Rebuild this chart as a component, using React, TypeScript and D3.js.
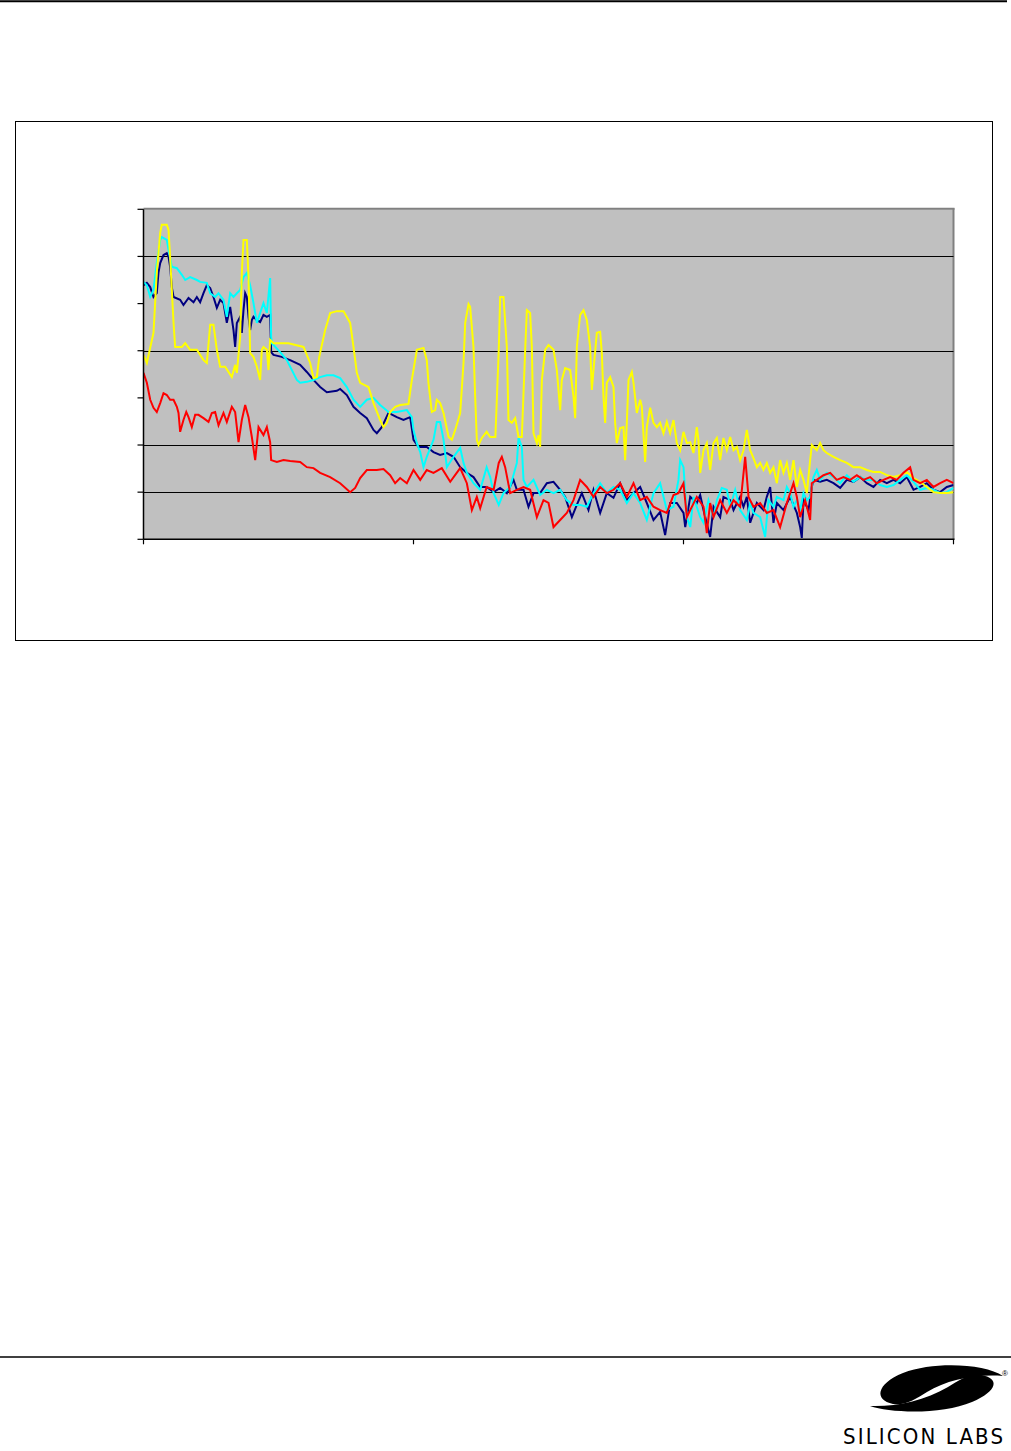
import React from "react";
import * as d3 from "d3";

type Pt = [number, number];

// Frequency (Hz) on a log axis, level (dB) on a linear axis
const xTicks = [10, 100, 1000, 10000];
const yTicks = [-140, -130, -120, -110, -100, -90, -80, -70];
const yGrid = [-130, -120, -100, -80];

const yellowSeries: Pt[] = [[10,-100.9],[10.29,-102.6],[10.89,-96.2],[11.2,-83.5],[11.53,-75.0],[11.69,-73.3],[12.2,-73.3],[12.38,-74.4],[12.55,-80.1],[12.73,-87.1],[12.92,-94.1],[13.1,-99.2],[13.87,-99.2],[14.27,-98.4],[14.89,-99.8],[15.76,-99.8],[16.68,-102.0],[17.16,-102.6],[17.66,-94.5],[18.16,-94.5],[18.69,-99.8],[19.23,-103.4],[20.06,-103.4],[21.24,-105.6],[21.85,-103.0],[22.17,-104.7],[22.8,-97.1],[23.13,-83.5],[23.46,-76.5],[24.14,-76.5],[24.49,-84.4],[24.83,-100.5],[25.55,-101.3],[26.29,-103.4],[27.04,-106.2],[27.43,-99.8],[27.82,-99.2],[28.63,-99.8],[29.04,-104.1],[29.45,-97.7],[30.3,-98.4],[34.43,-98.4],[39.14,-99.2],[41.42,-102.6],[42.62,-105.8],[43.85,-105.6],[44.76,-101.3],[47.08,-95.6],[49.13,-92.0],[52.0,-91.6],[55.04,-91.6],[58.26,-94.1],[59.94,-99.2],[61.67,-104.7],[63.45,-106.8],[68.1,-107.7],[71.09,-111.1],[75.25,-114.7],[77.42,-116.2],[79.65,-115.3],[81.95,-113.0],[85.5,-111.9],[89.24,-111.5],[95.8,-111.3],[98.6,-106.2],[102.9,-99.8],[108.9,-99.4],[112.0,-102.0],[113.6,-106.8],[116.9,-113.0],[120.3,-112.6],[122.0,-110.4],[125.5,-111.1],[129.2,-113.2],[134.9,-118.3],[138.7,-118.9],[142.7,-116.8],[148.9,-113.2],[153.2,-102.6],[155.4,-94.1],[159.9,-90.1],[162.1,-90.7],[166.8,-99.2],[169.2,-109.8],[171.6,-118.9],[174.1,-120.0],[179.1,-118.5],[186.6,-117.2],[192.3,-118.3],[201.0,-118.3],[206.9,-99.8],[209.4,-88.6],[215.4,-88.6],[221.7,-99.2],[224.8,-114.7],[231.3,-115.3],[238.0,-114.3],[244.9,-118.3],[251.9,-118.3],[259.2,-99.8],[262.9,-91.4],[270.4,-92.0],[274.3,-99.2],[278.3,-117.5],[286.3,-119.6],[290.4,-117.9],[294.5,-120.4],[298.8,-106.2],[307.4,-99.8],[316.3,-98.8],[330.0,-99.8],[339.5,-104.1],[349.3,-112.6],[354.2,-106.2],[364.5,-103.7],[380.4,-104.1],[391.4,-109.8],[397.0,-114.3],[402.6,-99.2],[414.2,-92.4],[426.2,-91.4],[438.5,-93.5],[451.1,-99.2],[457.6,-108.3],[464.1,-104.1],[477.5,-96.2],[491.3,-96.0],[498.3,-100.5],[505.4,-109.8],[512.6,-115.3],[520.0,-106.8],[535.0,-105.6],[550.4,-107.7],[558.3,-115.3],[566.3,-119.6],[582.6,-116.4],[599.4,-116.2],[608,-123.2],[616.7,-115.3],[625.6,-106.2],[643.6,-104.5],[652.8,-106.8],[671.6,-113.2],[691.0,-110.4],[700.9,-111.9],[721.1,-123.6],[731.4,-116.2],[752.5,-112.1],[774.2,-115.3],[796.5,-116.2],[819.5,-115.3],[843.1,-117.5],[867.4,-115.1],[892.4,-117.5],[918.2,-114.7],[944.7,-119.6],[971.9,-121.1],[1000,-117.2],[1029,-119.6],[1059,-119.4],[1089,-121.7],[1120,-116.2],[1136,-118.9],[1153,-125.9],[1186,-121.1],[1220,-119.6],[1255,-125.3],[1292,-119.6],[1329,-118.5],[1367,-123.2],[1406,-118.5],[1447,-121.1],[1489,-118.3],[1532,-121.1],[1576,-120.4],[1621,-123.2],[1668,-121.1],[1716,-116.8],[1766,-121.1],[1816,-122.8],[1869,-124.7],[1923,-123.8],[1978,-125.3],[2035,-123.8],[2094,-125.9],[2154,-124.7],[2217,-128.1],[2280,-123.2],[2346,-125.9],[2414,-123.8],[2483,-127.4],[2555,-123.2],[2629,-128.9],[2704,-125.3],[2782,-127.4],[2863,-130.2],[2945,-123.2],[2987,-120.0],[3117,-121.1],[3207,-119.6],[3300,-121.1],[3395,-121.7],[3594,-122.5],[3804,-123.2],[4026,-123.8],[4262,-124.7],[4511,-124.7],[4775,-125.3],[5054,-125.7],[5350,-125.7],[5663,-126.4],[5994,-126.8],[6345,-126.4],[6716,-125.7],[7109,-127.0],[7525,-127.8],[7965,-128.9],[8431,-130.0],[8924,-130.2],[9446,-130.2],[10000,-130.0]];

const navySeries: Pt[] = [[10,-86.1],[10.29,-85.6],[10.59,-86.5],[10.89,-88.6],[11.2,-87.8],[11.36,-83.5],[11.53,-81.4],[11.86,-79.7],[12.2,-79.3],[12.38,-80.1],[12.55,-82.2],[12.73,-86.5],[12.92,-88.6],[13.67,-89.2],[14.06,-90.3],[14.68,-88.8],[15.32,-89.7],[15.76,-88.6],[16.21,-89.7],[16.68,-87.8],[17.16,-86.1],[17.66,-86.7],[18.16,-88.6],[18.69,-90.9],[19.23,-89.2],[19.78,-89.9],[20.35,-94.1],[20.94,-90.7],[21.54,-95.6],[21.85,-99.2],[22.17,-94.1],[22.8,-92.8],[23.13,-96.2],[23.46,-91.4],[23.8,-87.8],[24.14,-88.6],[24.49,-92.8],[24.83,-95.6],[25.19,-93.5],[25.55,-92.8],[26.29,-93.5],[27.04,-93.9],[27.82,-92.4],[28.63,-92.8],[29.45,-92.4],[29.7,-100.3],[30.3,-100.9],[32.5,-101.3],[34.93,-102.0],[38.04,-103.0],[40.26,-104.5],[42.62,-106.2],[45.11,-107.7],[47.75,-108.8],[52.0,-108.5],[53.5,-108.1],[56.63,-109.4],[59.94,-111.9],[63.45,-113.2],[67.16,-114.3],[71.09,-116.8],[73.14,-117.5],[76.3,-116.2],[80.8,-113.2],[86.74,-114.1],[91.82,-114.7],[97.19,-114.1],[100,-118.9],[104.4,-120.4],[112.0,-120.4],[118.6,-121.5],[125.5,-122.1],[132.9,-121.7],[140.7,-122.5],[148.9,-124.7],[157.6,-125.9],[166.8,-126.8],[176.6,-128.9],[186.6,-128.9],[198.1,-130.0],[209.4,-129.1],[221.7,-130.2],[234.6,-127.4],[241.4,-129.5],[255.5,-129.5],[266.6,-133.1],[278.3,-130.2],[294.5,-130.2],[311.8,-128.1],[330.0,-127.8],[349.3,-129.5],[364.5,-131.0],[386,-135.3],[402.6,-132.7],[420.2,-130.2],[444.7,-133.8],[464.1,-129.5],[491.3,-134.4],[520.0,-130.2],[550.4,-131.2],[582.6,-128.1],[616.7,-131.7],[652.8,-130.2],[691.0,-128.9],[731.4,-132.3],[774.2,-135.9],[819.5,-134.2],[855,-139.1],[892.4,-132.3],[944.7,-132.3],[1000,-134.4],[1015,-137.4],[1059,-131.0],[1120,-132.3],[1153,-130.6],[1186,-133.8],[1255,-139.5],[1292,-133.1],[1367,-135.3],[1406,-131.0],[1489,-131.7],[1532,-133.8],[1621,-131.0],[1668,-133.1],[1716,-131.0],[1766,-136.5],[1869,-132.3],[1978,-133.8],[2035,-131.0],[2094,-128.9],[2154,-136.5],[2217,-132.3],[2346,-133.8],[2483,-131.0],[2629,-134.4],[2704,-137.4],[2743,-139.7],[2782,-131.7],[2904,-133.8],[2987,-128.9],[3030,-127.4],[3207,-127.8],[3395,-127.4],[3594,-128.1],[3804,-129.1],[4026,-127.4],[4262,-127.8],[4511,-126.8],[4775,-128.1],[5054,-128.9],[5350,-127.4],[5663,-128.1],[5994,-127.4],[6345,-128.1],[6716,-126.8],[7109,-129.5],[7525,-128.9],[7965,-128.1],[8431,-129.5],[8924,-130.0],[9446,-128.9],[10000,-128.5]];

const cyanSeries: Pt[] = [[10,-85.4],[10.29,-86.1],[10.59,-88.6],[10.89,-87.1],[11.2,-81.4],[11.53,-76.5],[11.69,-75.9],[12.2,-76.5],[12.38,-78.6],[12.73,-82.2],[13.29,-82.5],[13.87,-83.9],[14.27,-85.0],[14.89,-84.4],[15.76,-85.0],[16.21,-85.4],[17.16,-85.6],[17.66,-87.8],[18.42,-88.6],[18.96,-87.8],[19.78,-89.2],[20.35,-92.8],[20.94,-87.8],[21.54,-88.6],[22.17,-87.8],[22.8,-87.1],[23.46,-84.4],[24.14,-83.5],[24.83,-86.1],[25.55,-89.9],[26.29,-94.1],[27.04,-92.0],[27.82,-89.9],[28.63,-92.0],[29.45,-84.6],[29.7,-97.1],[29.9,-98.4],[32.07,-100.3],[33.95,-102.0],[36.97,-106.2],[38.04,-106.8],[40.26,-106.6],[42.62,-106.2],[45.11,-105.6],[47.75,-105.2],[50.54,-105.2],[53.5,-105.8],[56.63,-107.7],[59.94,-110.4],[63.45,-111.9],[67.16,-110.4],[71.09,-110.0],[75.25,-111.5],[80.8,-113.0],[86.74,-113.0],[94.47,-112.6],[98.6,-114.1],[100,-116.8],[102.9,-119.6],[105.9,-121.5],[108.9,-124.7],[112.0,-122.5],[118.6,-118.9],[122.0,-115.1],[125.5,-115.1],[129.2,-118.9],[132.9,-124.7],[140.7,-122.5],[148.9,-120.6],[153.2,-123.8],[157.6,-125.9],[166.8,-128.1],[176.6,-129.5],[186.6,-124.7],[192.3,-126.8],[198.1,-130.2],[206.9,-132.7],[215.4,-130.2],[228.0,-128.9],[241.4,-123.8],[244.9,-118.5],[251.9,-120.4],[255.5,-127.4],[262.9,-128.9],[278.3,-127.4],[294.5,-130.6],[311.8,-129.5],[330.0,-130.2],[349.3,-129.5],[369.7,-131.7],[391.4,-132.7],[414.2,-132.7],[438.5,-133.1],[464.1,-130.2],[491.3,-128.1],[520.0,-130.2],[550.4,-128.9],[582.6,-129.5],[616.7,-132.3],[652.8,-130.2],[691.0,-132.3],[731.4,-135.9],[774.2,-130.2],[819.5,-128.1],[867.4,-133.8],[918.2,-133.1],[958,-127.4],[971.9,-123.2],[1000,-124.7],[1029,-135.3],[1059,-137.4],[1089,-131.0],[1153,-135.3],[1186,-136.5],[1237,-131.7],[1292,-135.3],[1329,-131.7],[1386,-129.1],[1447,-129.5],[1489,-133.1],[1554,-129.5],[1621,-133.8],[1716,-135.9],[1766,-132.3],[1816,-134.4],[1923,-135.3],[2006,-139.5],[2064,-131.7],[2154,-133.1],[2217,-131.0],[2346,-131.7],[2414,-128.9],[2483,-130.2],[2555,-133.1],[2629,-131.7],[2704,-133.8],[2782,-130.2],[2863,-131.7],[2945,-131.0],[3030,-126.8],[3117,-125.3],[3207,-127.4],[3395,-125.9],[3594,-126.8],[3804,-128.1],[4026,-126.4],[4262,-127.8],[4511,-126.8],[4775,-127.4],[5054,-127.4],[5350,-128.5],[5663,-128.9],[5994,-128.5],[6345,-127.4],[6716,-126.4],[7109,-127.8],[7525,-129.5],[7965,-129.1],[8431,-129.5],[8924,-130.2],[9446,-130.0],[10000,-129.1]];

const redSeries: Pt[] = [[10,-104.7],[10.29,-106.8],[10.59,-110.4],[10.89,-112.1],[11.2,-113.0],[11.53,-111.1],[11.86,-109.0],[12.2,-109.4],[12.55,-110.4],[12.92,-110.4],[13.29,-111.9],[13.48,-113.2],[13.67,-117.2],[14.06,-114.7],[14.4,-113.0],[14.68,-114.1],[15.1,-116.2],[15.54,-113.6],[15.98,-113.6],[16.68,-114.3],[17.41,-115.1],[17.91,-113.2],[18.42,-113.0],[18.96,-115.8],[19.78,-113.2],[20.35,-115.1],[21.24,-111.9],[21.85,-113.0],[22.49,-119.4],[23.13,-114.7],[23.8,-111.5],[24.49,-114.1],[25.19,-118.3],[25.92,-123.2],[26.67,-116.2],[27.82,-117.9],[28.63,-116.2],[29.45,-119.4],[29.7,-123.2],[31.18,-123.6],[33.0,-123.2],[34.93,-123.4],[38.04,-123.6],[40.26,-124.7],[42.62,-124.9],[45.11,-125.9],[49.13,-126.8],[53.5,-128.1],[58.26,-130.0],[60.8,-129.1],[63.45,-127.0],[67.16,-125.3],[73.14,-125.3],[77.42,-125.1],[81.95,-126.4],[85.5,-128.1],[89.24,-127.0],[94.47,-128.1],[100,-125.3],[105.9,-127.4],[112.0,-125.3],[118.6,-125.9],[127.3,-124.9],[136.8,-127.8],[148.9,-124.9],[157.6,-128.1],[164.5,-133.8],[171.6,-131.0],[176.6,-133.4],[186.6,-128.9],[198.1,-129.5],[206.9,-123.8],[212.4,-122.5],[218.5,-124.7],[228.0,-130.2],[241.4,-129.5],[255.5,-128.9],[270.4,-129.5],[286.3,-135.3],[303.0,-131.7],[316.3,-132.3],[330.0,-137.4],[349.3,-135.9],[369.7,-134.4],[391.4,-131.7],[414.2,-127.4],[438.5,-128.9],[464.1,-131.0],[491.3,-128.9],[520.0,-130.2],[550.4,-129.5],[582.6,-128.1],[616.7,-131.0],[652.8,-128.1],[691.0,-131.7],[731.4,-131.0],[774.2,-133.1],[819.5,-133.8],[867.4,-134.4],[918.2,-130.6],[958,-130.2],[971.9,-129.5],[1000,-128.1],[1029,-135.3],[1059,-133.8],[1120,-131.0],[1186,-133.1],[1220,-138.7],[1255,-132.3],[1292,-135.3],[1367,-131.7],[1447,-134.4],[1532,-131.7],[1621,-133.1],[1692,-122.5],[1741,-131.0],[1816,-133.1],[1923,-132.3],[2035,-134.4],[2154,-133.8],[2280,-137.4],[2414,-132.3],[2555,-128.1],[2629,-131.0],[2704,-135.3],[2822,-131.7],[2945,-135.9],[2987,-128.1],[3117,-127.4],[3300,-126.4],[3494,-125.9],[3697,-127.4],[3914,-126.8],[4143,-127.4],[4385,-126.4],[4641,-127.4],[4913,-126.8],[5200,-128.1],[5504,-127.4],[5826,-126.8],[6167,-127.4],[6528,-125.9],[6910,-124.7],[7109,-127.4],[7525,-128.1],[7965,-127.4],[8431,-128.9],[8924,-128.1],[9446,-127.4],[10000,-128.1]];

const seriesList: { name: string; color: string; data: Pt[] }[] = [
  { name: "navy", color: "#000080", data: navySeries },
  { name: "cyan", color: "#00FFFF", data: cyanSeries },
  { name: "yellow", color: "#FFFF00", data: yellowSeries },
  { name: "red", color: "#FF0000", data: redSeries },
];

export default function App() {
  const W = 1011;
  const H = 1451;
  const left = 143.5, right = 953.5, top = 209.3, bottom = 539.3;
  const x = d3.scaleLog().domain([10, 10000]).range([left, right]);
  const y = d3.scaleLinear().domain([-140, -70]).range([bottom, top]);
  const line = d3
    .line<Pt>()
    .x((d) => x(d[0]))
    .y((d) => y(d[1]));

  return (
    <svg
      width={W}
      height={H}
      viewBox={`0 0 ${W} ${H}`}
      style={{ position: "absolute", left: 0, top: 0, display: "block" }}
    >
      <rect x={0} y={0} width={W} height={H} fill="#fff" />
      {/* page rules */}
      <line x1={0} x2={1007} y1={1.2} y2={1.2} stroke="#000" strokeWidth={2} />
      <line x1={0} x2={W} y1={1357} y2={1357} stroke="#000" strokeWidth={1.6} />

      {/* chart frame */}
      <rect x={15.5} y={121.5} width={977} height={519} fill="#fff" stroke="#000" strokeWidth={1} />

      {/* plot area */}
      <rect x={left} y={top} width={right - left} height={bottom - top} fill="#C0C0C0" />
      <line x1={left} x2={right + 1} y1={top - 0.5} y2={top - 0.5} stroke="#808080" strokeWidth={2} />
      <line x1={right} x2={right} y1={top - 1} y2={bottom} stroke="#808080" strokeWidth={2} />

      {yGrid.map((v) => (
        <line key={"g" + v} x1={left} x2={right} y1={Math.round(y(v)) + 0.5} y2={Math.round(y(v)) + 0.5} stroke="#000" strokeWidth={1} />
      ))}

      <defs>
        <clipPath id="plotClip">
          <rect x={left} y={top} width={right - left} height={bottom - top} />
        </clipPath>
      </defs>
      <g clipPath="url(#plotClip)">
        {seriesList.map((s) => (
          <path key={s.name} d={line(s.data) || ""} fill="none" stroke={s.color} strokeWidth={2} strokeLinejoin="miter" />
        ))}
      </g>

      {/* axes */}
      <line x1={left} x2={left} y1={top} y2={bottom} stroke="#000" strokeWidth={1.5} />
      <line x1={left} x2={right + 1} y1={bottom} y2={bottom} stroke="#000" strokeWidth={1.5} />
      {yTicks.map((v) => (
        <line key={"yt" + v} x1={left - 6} x2={left} y1={y(v)} y2={y(v)} stroke="#000" strokeWidth={1.2} />
      ))}
      {xTicks.map((v) => (
        <line key={"xt" + v} x1={x(v)} x2={x(v)} y1={bottom} y2={bottom + 5} stroke="#000" strokeWidth={1.2} />
      ))}

      {/* Silicon Labs logo */}
      <g fill="#000">
        <path d="M 1003 1376 C 985 1364 935 1361 903 1373 C 876 1384 874 1400 893 1404 C 905 1406 916 1399 927 1392 C 947 1380 975 1374 1003 1376 Z" />
        <path d="M 870 1406 C 890 1413 942 1415 972 1402 C 998 1391 1000 1378 981 1375 C 970 1373 959 1380 948 1387 C 924 1401 895 1407 870 1406 Z" />
        <text x={1005} y={1376} fontSize={8} fontFamily="Liberation Sans, Arial, sans-serif" textAnchor="middle">®</text>
        <text
          x={843}
          y={1444}
          fontSize={22}
          fontFamily="'Liberation Sans Narrow', 'DejaVu Sans Condensed', sans-serif"
          textLength={160}
          lengthAdjust="spacing"
        >
          SILICON LABS
        </text>
      </g>
    </svg>
  );
}
